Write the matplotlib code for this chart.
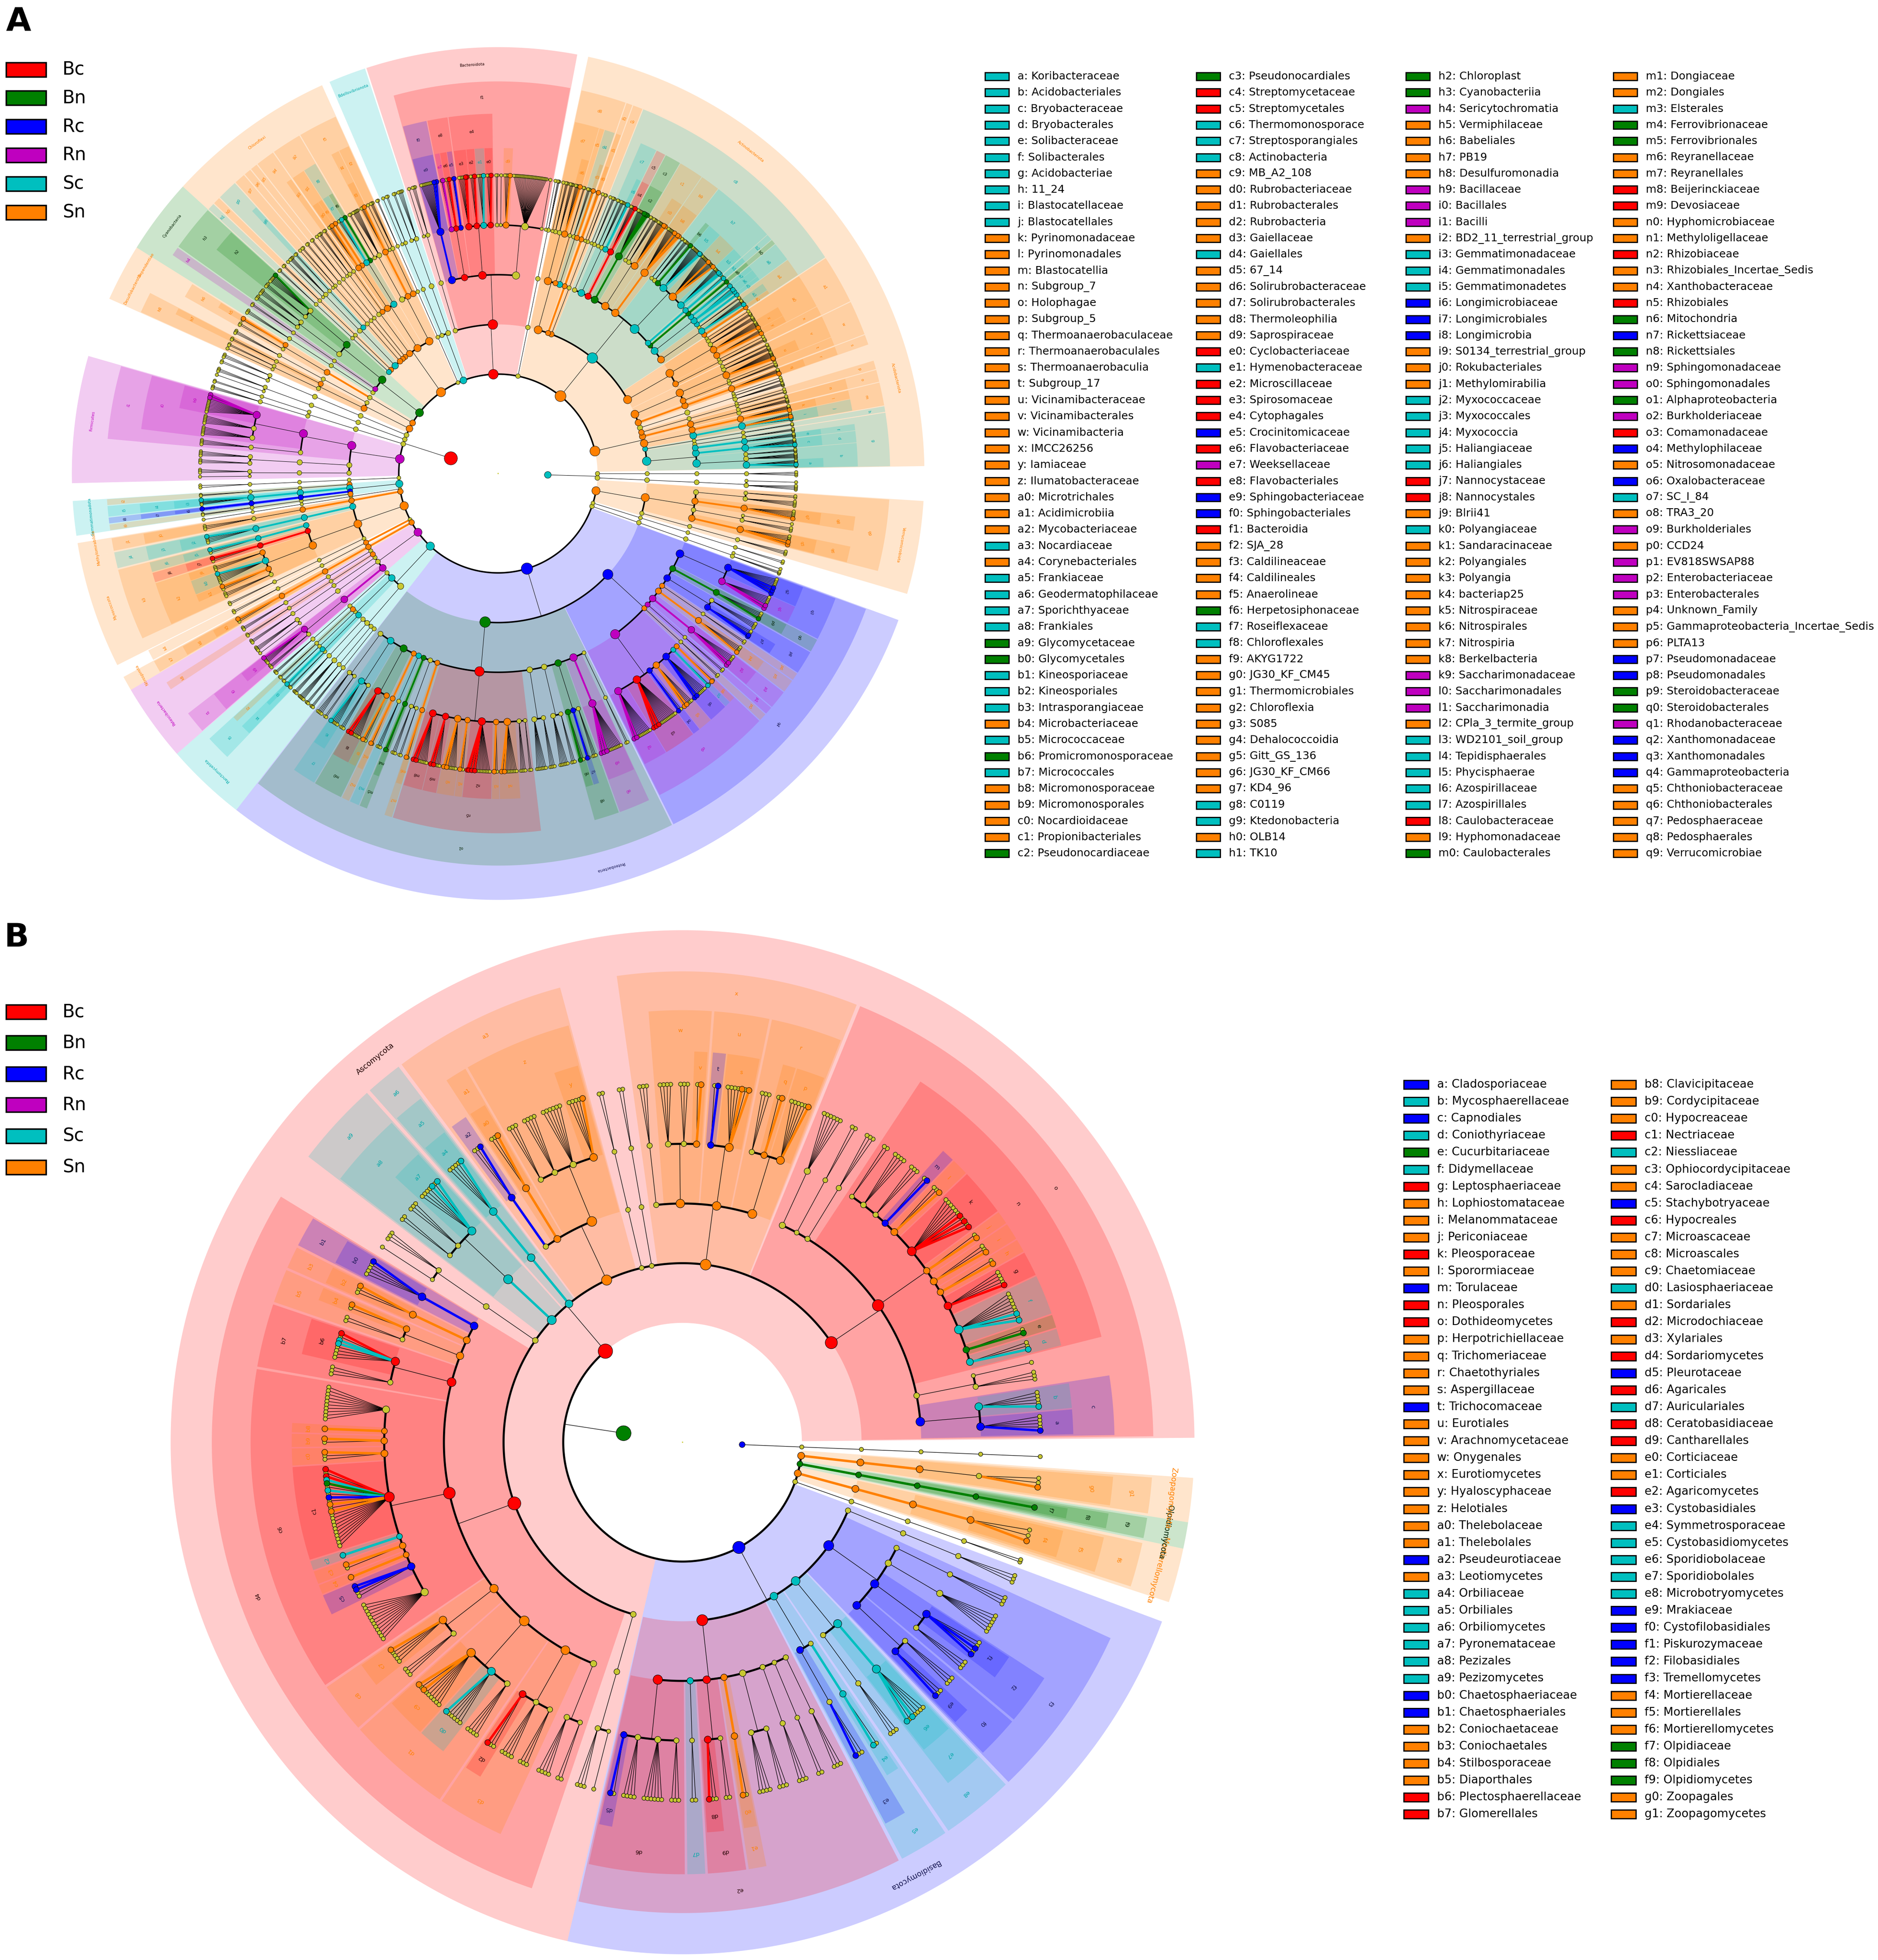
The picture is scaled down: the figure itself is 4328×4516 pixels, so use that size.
import numpy as np
import matplotlib
matplotlib.use("Agg")
import matplotlib.pyplot as plt
from matplotlib.patches import Polygon, Rectangle
from matplotlib.collections import LineCollection

# ------------------------------------------------------------------ data
GROUP_NAMES = ["Bc", "Bn", "Rc", "Rn", "Sc", "Sn"]
GROUP_KEYS = ["r", "g", "b", "m", "c", "o"]
GROUP_COLORS = ["#ff0000", "#008000", "#0000ff", "#bf00bf", "#00bfbf", "#ff8000"]
LABEL_TEXT_COLORS = ["#200000", "#002000", "#141450", "#bf00bf", "#00a8a8", "#ff8000"]

LEGEND_A = [
    "a Koribacteraceae c", "b Acidobacteriales c", "c Bryobacteraceae c", "d Bryobacterales c",
    "e Solibacteraceae c", "f Solibacterales c", "g Acidobacteriae c", "h 11_24 c",
    "i Blastocatellaceae c", "j Blastocatellales c", "k Pyrinomonadaceae o", "l Pyrinomonadales o",
    "m Blastocatellia o", "n Subgroup_7 o", "o Holophagae o", "p Subgroup_5 o",
    "q Thermoanaerobaculaceae o", "r Thermoanaerobaculales o", "s Thermoanaerobaculia o",
    "t Subgroup_17 o", "u Vicinamibacteraceae o", "v Vicinamibacterales o", "w Vicinamibacteria o",
    "x IMCC26256 o", "y Iamiaceae o", "z Ilumatobacteraceae o", "a0 Microtrichales o",
    "a1 Acidimicrobiia o", "a2 Mycobacteriaceae o", "a3 Nocardiaceae c", "a4 Corynebacteriales o",
    "a5 Frankiaceae c", "a6 Geodermatophilaceae c", "a7 Sporichthyaceae c", "a8 Frankiales c",
    "a9 Glycomycetaceae g", "b0 Glycomycetales g", "b1 Kineosporiaceae c", "b2 Kineosporiales c",
    "b3 Intrasporangiaceae c", "b4 Microbacteriaceae o", "b5 Micrococcaceae c",
    "b6 Promicromonosporaceae g", "b7 Micrococcales c", "b8 Micromonosporaceae o",
    "b9 Micromonosporales o", "c0 Nocardioidaceae o", "c1 Propionibacteriales o",
    "c2 Pseudonocardiaceae g",
    "c3 Pseudonocardiales g", "c4 Streptomycetaceae r", "c5 Streptomycetales r",
    "c6 Thermomonosporace c", "c7 Streptosporangiales c", "c8 Actinobacteria c", "c9 MB_A2_108 o",
    "d0 Rubrobacteriaceae o", "d1 Rubrobacterales o", "d2 Rubrobacteria o", "d3 Gaiellaceae o",
    "d4 Gaiellales c", "d5 67_14 o", "d6 Solirubrobacteraceae o", "d7 Solirubrobacterales o",
    "d8 Thermoleophilia o", "d9 Saprospiraceae o", "e0 Cyclobacteriaceae r", "e1 Hymenobacteraceae c",
    "e2 Microscillaceae r", "e3 Spirosomaceae r", "e4 Cytophagales r", "e5 Crocinitomicaceae b",
    "e6 Flavobacteriaceae r", "e7 Weeksellaceae m", "e8 Flavobacteriales r",
    "e9 Sphingobacteriaceae b", "f0 Sphingobacteriales b", "f1 Bacteroidia r", "f2 SJA_28 o",
    "f3 Caldilineaceae o", "f4 Caldilineales o", "f5 Anaerolineae o", "f6 Herpetosiphonaceae g",
    "f7 Roseiflexaceae c", "f8 Chloroflexales c", "f9 AKYG1722 o", "g0 JG30_KF_CM45 o",
    "g1 Thermomicrobiales o", "g2 Chloroflexia o", "g3 S085 o", "g4 Dehalococcoidia o",
    "g5 Gitt_GS_136 o", "g6 JG30_KF_CM66 o", "g7 KD4_96 o", "g8 C0119 c", "g9 Ktedonobacteria c",
    "h0 OLB14 o", "h1 TK10 c",
    "h2 Chloroplast g", "h3 Cyanobacteriia g", "h4 Sericytochromatia m", "h5 Vermiphilaceae o",
    "h6 Babeliales o", "h7 PB19 o", "h8 Desulfuromonadia o", "h9 Bacillaceae m", "i0 Bacillales m",
    "i1 Bacilli m", "i2 BD2_11_terrestrial_group o", "i3 Gemmatimonadaceae c",
    "i4 Gemmatimonadales c", "i5 Gemmatimonadetes c", "i6 Longimicrobiaceae b",
    "i7 Longimicrobiales b", "i8 Longimicrobia b", "i9 S0134_terrestrial_group o",
    "j0 Rokubacteriales o", "j1 Methylomirabilia o", "j2 Myxococcaceae c", "j3 Myxococcales c",
    "j4 Myxococcia c", "j5 Haliangiaceae c", "j6 Haliangiales c", "j7 Nannocystaceae r",
    "j8 Nannocystales r", "j9 Blrii41 o", "k0 Polyangiaceae c", "k1 Sandaracinaceae o",
    "k2 Polyangiales o", "k3 Polyangia o", "k4 bacteriap25 o", "k5 Nitrospiraceae o",
    "k6 Nitrospirales o", "k7 Nitrospiria o", "k8 Berkelbacteria o", "k9 Saccharimonadaceae m",
    "l0 Saccharimonadales m", "l1 Saccharimonadia m", "l2 CPla_3_termite_group o",
    "l3 WD2101_soil_group c", "l4 Tepidisphaerales c", "l5 Phycisphaerae c", "l6 Azospirillaceae c",
    "l7 Azospirillales c", "l8 Caulobacteraceae r", "l9 Hyphomonadaceae o", "m0 Caulobacterales g",
    "m1 Dongiaceae o", "m2 Dongiales o", "m3 Elsterales c", "m4 Ferrovibrionaceae g",
    "m5 Ferrovibrionales g", "m6 Reyranellaceae o", "m7 Reyranellales o", "m8 Beijerinckiaceae r",
    "m9 Devosiaceae r", "n0 Hyphomicrobiaceae o", "n1 Methyloligellaceae o", "n2 Rhizobiaceae r",
    "n3 Rhizobiales_Incertae_Sedis o", "n4 Xanthobacteraceae o", "n5 Rhizobiales r",
    "n6 Mitochondria g", "n7 Rickettsiaceae b", "n8 Rickettsiales g", "n9 Sphingomonadaceae m",
    "o0 Sphingomonadales m", "o1 Alphaproteobacteria g", "o2 Burkholderiaceae m",
    "o3 Comamonadaceae r", "o4 Methylophilaceae b", "o5 Nitrosomonadaceae o",
    "o6 Oxalobacteraceae b", "o7 SC_I_84 c", "o8 TRA3_20 o", "o9 Burkholderiales m", "p0 CCD24 o",
    "p1 EV818SWSAP88 m", "p2 Enterobacteriaceae m", "p3 Enterobacterales m", "p4 Unknown_Family o",
    "p5 Gammaproteobacteria_Incertae_Sedis o", "p6 PLTA13 o", "p7 Pseudomonadaceae b",
    "p8 Pseudomonadales b", "p9 Steroidobacteraceae g", "q0 Steroidobacterales g",
    "q1 Rhodanobacteraceae m", "q2 Xanthomonadaceae b", "q3 Xanthomonadales b",
    "q4 Gammaproteobacteria b", "q5 Chthoniobacteraceae o", "q6 Chthoniobacterales o",
    "q7 Pedosphaeraceae o", "q8 Pedosphaerales o", "q9 Verrucomicrobiae o",
]

LEGEND_B = [
    "a Cladosporiaceae b", "b Mycosphaerellaceae c", "c Capnodiales b", "d Coniothyriaceae c",
    "e Cucurbitariaceae g", "f Didymellaceae c", "g Leptosphaeriaceae r", "h Lophiostomataceae o",
    "i Melanommataceae o", "j Periconiaceae o", "k Pleosporaceae r", "l Sporormiaceae o",
    "m Torulaceae b", "n Pleosporales r", "o Dothideomycetes r", "p Herpotrichiellaceae o",
    "q Trichomeriaceae o", "r Chaetothyriales o", "s Aspergillaceae o", "t Trichocomaceae b",
    "u Eurotiales o", "v Arachnomycetaceae o", "w Onygenales o", "x Eurotiomycetes o",
    "y Hyaloscyphaceae o", "z Helotiales o", "a0 Thelebolaceae o", "a1 Thelebolales o",
    "a2 Pseudeurotiaceae b", "a3 Leotiomycetes o", "a4 Orbiliaceae c", "a5 Orbiliales c",
    "a6 Orbiliomycetes c", "a7 Pyronemataceae c", "a8 Pezizales c", "a9 Pezizomycetes c",
    "b0 Chaetosphaeriaceae b", "b1 Chaetosphaeriales b", "b2 Coniochaetaceae o",
    "b3 Coniochaetales o", "b4 Stilbosporaceae o", "b5 Diaporthales o",
    "b6 Plectosphaerellaceae r", "b7 Glomerellales r",
    "b8 Clavicipitaceae o", "b9 Cordycipitaceae o", "c0 Hypocreaceae o", "c1 Nectriaceae r",
    "c2 Niessliaceae c", "c3 Ophiocordycipitaceae o", "c4 Sarocladiaceae o",
    "c5 Stachybotryaceae b", "c6 Hypocreales r", "c7 Microascaceae o", "c8 Microascales o",
    "c9 Chaetomiaceae o", "d0 Lasiosphaeriaceae c", "d1 Sordariales o", "d2 Microdochiaceae r",
    "d3 Xylariales o", "d4 Sordariomycetes r", "d5 Pleurotaceae b", "d6 Agaricales r",
    "d7 Auriculariales c", "d8 Ceratobasidiaceae r", "d9 Cantharellales r", "e0 Corticiaceae o",
    "e1 Corticiales o", "e2 Agaricomycetes r", "e3 Cystobasidiales b", "e4 Symmetrosporaceae c",
    "e5 Cystobasidiomycetes c", "e6 Sporidiobolaceae c", "e7 Sporidiobolales c",
    "e8 Microbotryomycetes c", "e9 Mrakiaceae b", "f0 Cystofilobasidiales b",
    "f1 Piskurozymaceae b", "f2 Filobasidiales b", "f3 Tremellomycetes b", "f4 Mortierellaceae o",
    "f5 Mortierellales o", "f6 Mortierellomycetes o", "f7 Olpidiaceae g", "f8 Olpidiales g",
    "f9 Olpidiomycetes g", "g0 Zoopagales o", "g1 Zoopagomycetes o",
]

# Tree specs.  phylum = (name, group, start_deg, end_deg, classes)
# class / order = ("code", children) if biomarker, else [children]
# family = ("code", genera) or genera ; genera string: '.' plain, group key = biomarker genus
A_ARCHAEA = [
    ("", "", 356.3, 358.9, [[["....", "."]]]),
    ("", "", 358.9, 361.0, [[["..."]]]),
]
A_ACIDO = ("Acidobacteriota", "o", 1.0, 26.0, [
    ("g", [("b", [("a", "..c....."), "......", "..."]), ("d", [("c", "..c......")]),
           ("f", [("e", "....")]), ["..."]]),
    ("h", [[".."]]),
    ("m", [("j", [("i", "..c.o....")]), ("l", [("k", "o.....")])]),
    ("o", [("n", ["....", ".."])]),
    ("p", [["..", "."]]),
    [["....", "..", "."]],
    ("s", [("r", [("q", "o.....")])]),
    ("w", [("t", ["...", "."]), ("v", [("u", "oo........"), "....", ".."])]),
])
A_ACTINO = ("Actinobacteriota", "o", 26.0, 77.8, [
    ("a1", [("x", ["...", "."]), ("a0", [("y", "o...."), ("z", "o......."), "....", "...", "."])]),
    ("c8", [("a4", [("a2", "o."), ("a3", "c....."), ".."]),
            ("a8", [("a5", "c."), ("a6", "c..c.."), ("a7", "c..")]),
            ("b0", [("a9", "g.")]),
            ("b2", [("b1", "c..")]),
            ("b7", [("b3", "c.c......"), ("b4", "o......o........."), ("b5", "cc.........."),
                    ("b6", "g.."), "....", ".."]),
            ("b9", [("b8", "o.o...o........")]),
            ("c1", [("c0", "o.o......."), "....", ".."]),
            ("c3", [("c2", "g.g.g.......")]),
            ("c5", [("c4", "r.....")]),
            ("c7", [("c6", "c.."), "....", ".."]),
            ["...", "."]]),
    ("c9", [["..", "."]]),
    ("d2", [("d1", [("d0", "o.")])]),
    ("d8", [("d4", [("d3", "o."), "..."]), ("d5", [".."]),
            ("d7", [("d6", "o....."), "....", "...", "."])]),
])
A_ARMAT = ("", "", 77.8, 79.3, [[["...", "."]]])
A_BACTERO = ("Bacteroidota", "r", 79.3, 108.0, [
    ("f1", [[".", "..........................", ("d9", "o...."), ".", ".."],
            ("e4", [("e0", "r..."), ("e1", "c...."), ("e2", "r..."), ("e3", "rr.....")]),
            ("e8", [("e5", "b."), ("e6", "r.."), ("e7", "m.")]),
            ("f0", [("e9", "b.b..........")])]),
    [["...", "."]],
])
A_BDELLO = ("Bdellovibrionota", "c", 108.2, 113.3, [[["....", ".."]], [["..", "."]]])
A_CAMPY = ("", "", 113.3, 114.4, [[[".."]]])
A_CHLORO = ("Chloroflexi", "o", 114.4, 137.7, [
    ("f5", [("f2", ["...", "."]), ("f4", [("f3", "o...")]), ["......", ".."]]),
    ("g2", [("f8", [("f6", "g."), ("f7", "c...")]), ("g1", [("f9", "o."), ("g0", "o...")])]),
    ("g4", [("g3", [".."]), ["...", "."]]),
    ("g5", [[".."]]),
    ("g6", [[".."]]),
    ("g7", [["..", "."]]),
    ("g9", [("g8", [".."]), ["....", "."]]),
    ("h0", [[".."]]),
    ("h1", [[".."]]),
])
A_CYANO = ("Cyanobacteria", "g", 137.7, 148.0, [
    ("h3", [("h2", ["g......", "..."]), ["....", "..."]]),
    ("h4", [[".."]]),
    [["..."]],
])
A_DEPEND = ("Dependentiae", "o", 148.0, 150.8, [[("h6", [("h5", "o."), ".."])]])
A_DESULFO = ("Desulfobacterota", "o", 150.8, 155.8, [[["..."]], ("h8", [("h7", [".."]), ["..", "."]])])
A_OTH1 = ("", "", 155.8, 158.8, [[["...", ".."]]])
A_OTH2 = ("", "", 158.8, 161.3, [[["...", "."]]])
A_OTH3 = ("", "", 161.3, 164.0, [[[".."], ["..."]]])
A_FIRMI = ("Firmicutes", "m", 164.0, 181.3, [
    ("i1", [("i0", [("h9", "m.m.........."), "......", "......"]), ["...."]]),
    [["....", "..."]],
    [["...", "."]],
])
A_GAL15 = ("", "", 181.3, 183.7, [[[".."]]])
A_GEMMA = ("Gemmatimonadota", "c", 183.7, 188.4, [
    ("i2", [[".."]]),
    ("i5", [("i4", [("i3", "c.....")])]),
    ("i8", [("i7", [("i6", "b.")])]),
    ("i9", [[".."]]),
])
A_LATESCI = ("", "", 188.4, 189.4, [[["."]]])
A_METHYLO = ("Methylomirabilota", "o", 189.4, 191.5, [("j1", [("j0", ["..."])])])
A_MYXO = ("Myxococcota", "o", 191.5, 206.7, [
    ("j4", [("j3", [("j2", "c....")])]),
    ("k3", [("j6", [("j5", "c..")]), ("j8", [("j7", "r..")]),
            ("k2", [("j9", "..."), ("k0", "c......"), ("k1", "o.."), "..."])]),
    [[".."]],
])
A_NB1J = ("", "", 206.7, 208.5, [("k4", [[".."]])])
A_NITRO = ("Nitrospirota", "o", 208.5, 210.5, [("k7", [("k6", [("k5", "o..")])])])
A_PATESCI = ("Patescibacteria", "m", 210.5, 221.1, [
    [["..."]],
    ("k8", [[".."]]),
    [["..."]],
    [["....", "."]],
    ("l1", [("l0", [("k9", "m....."), "..."])]),
])
A_PLANCTO = ("Planctomycetota", "c", 221.1, 232.1, [
    [["..."]],
    ("l5", [("l2", [".."]), [".."], ("l4", [("l3", "c."), ".."])]),
    [["...."], ["......"], ["..."], ["..."]],
])
A_PROTEO = ("Proteobacteria", "b", 232.1, 339.9, [
    ("o1", [["....", ".."],
            ("l7", [("l6", "c....."), "..."]),
            ("m0", [("l8", "r.r......"), ("l9", "o..")]),
            ("m2", [("m1", "o.")]),
            ("m3", ["..."]),
            ("m5", [("m4", "g.")]),
            ["...", ".."],
            ("m7", [("m6", "o.")]),
            ("n5", [("m8", "r.r......."), ("m9", "r.r...."), ("n0", "o.o......"), ("n1", "o.."),
                    ("n2", "rr.r.r.........."), ("n3", "o.."), ("n4", "o.o........"), "....", ".."]),
            [".......", "...."],
            ["......", "..."],
            ("n8", [("n6", "g.."), ("n7", "b."), "..."]),
            ("o0", [("n9", "m.m.m..........")]),
            [".."]]),
    ("q4", [("o9", [("o2", "m.m.........."), ("o3", "r.r.r............."), ("o4", "b.."),
                    ("o5", "o.o...."), ("o6", "b.b......."), ("o7", "c."), ("o8", "o.")]),
            ("p0", [".."]),
            ("p1", [".."]),
            ("p3", [("p2", "m.m.....")]),
            ("p5", [("p4", "o....")]),
            ("p6", [".."]),
            ("p8", [("p7", "bb..."), "...."]),
            ("q0", [("p9", "g....")]),
            ("q3", [("q1", "m.m......"), ("q2", "b.b.b......")])]),
])
A_OTH4 = ("", "", 339.9, 341.8, [[["...", "."]]])
A_OTH5 = ("", "", 341.8, 343.6, [[[".."]]])
A_VERRUCO = ("Verrucomicrobiota", "o", 343.6, 356.3, [
    [["..."]],
    ("q9", [("q6", [("q5", "o.o....")]), ["...", "."], ("q8", [("q7", "o.....")]), ["....", ".."]]),
])
A_BACTERIA = [A_ACIDO, A_ACTINO, A_ARMAT, A_BACTERO, A_BDELLO, A_CAMPY, A_CHLORO, A_CYANO,
              A_DEPEND, A_DESULFO, A_OTH1, A_OTH2, A_OTH3, A_FIRMI, A_GAL15, A_GEMMA, A_LATESCI,
              A_METHYLO, A_MYXO, A_NB1J, A_NITRO, A_PATESCI, A_PLANCTO, A_PROTEO, A_OTH4, A_OTH5,
              A_VERRUCO]
A_KINGDOMS = [("c", A_ARCHAEA), ("r", A_BACTERIA)]

B_ASCO = ("Ascomycota", "r", 0.5, 257.0, [
    ("o", [("c", [("a", "b...."), ("b", "c....")]),
           ["...", "."],
           ("n", [("d", "c.."), ("e", "g."), ("f", "c.c......"), ("g", "r...."), ("h", "o."),
                  ("i", "o.."), ("j", "o."), ("k", "r.r.r......"), ("l", "o.."), ("m", "b."),
                  "...", "....", ".."]),
           ["..."], [".."], ["......"]]),
    ("x", [("r", [("p", "o....."), ("q", "o."), "..."]),
           ("u", [("s", "o.o...."), ("t", "b.")]),
           ("w", [("v", "o."), "...", "...."]),
           ["..."]]),
    [[".."]],
    [[".."]],
    ("a3", [("z", [("y", "o...."), "......", "....", "..."]),
            ("a1", [("a0", "o..")]),
            [("a2", "b..")]]),
    ("a6", [("a5", [("a4", "c....")])]),
    ("a9", [("a8", [("a7", "c.c...."), "...", ".."])]),
    [["...", "."]],
    ("d4", [("b1", [("b0", "b....")]),
            ("b3", [("b2", "o..")]),
            ("b5", [("b4", "o."), ".."]),
            ("b7", [("b6", "r.cc...."), "..."]),
            ("c6", ["..........", ("b8", "o"), ("b9", "o."), ("c0", "o.."),
                    ("c1", "r.rcg.c.b.o.o.........."), ("c2", "c"), ("c3", "o."), ("c4", "o"),
                    ("c5", "bb.."), "............"]),
            ("c8", [("c7", "o...."), "..."]),
            ("d1", [("c9", "o.o......"), ("d0", "c....."), "...."]),
            ("d3", [("d2", "r.."), "....", "..."]),
            ["....", ".."]]),
    [["...", "."]],
])
B_BASIDIO = ("Basidiomycota", "b", 257.0, 339.5, [
    ("e2", [("d6", [("d5", "b."), "....", "......", "..."]),
            ("d7", [".."]),
            ("d9", [("d8", "r.."), ".."]),
            ("e1", [("e0", "o.")]),
            ["....", "..."], ["..."], [".."], ["..."]]),
    ("e5", [("e3", ["b.."]), [("e4", "c.")]]),
    ("e8", [["..."], ("e7", [("e6", "c.c....")])]),
    ("f3", [("f0", [("e9", "b.."), "..."]), ("f2", ["...", ("f1", "b.b..")]), ["......"], ["..."]]),
    [["..."]],
])
B_OTHER_PHYLUM = ("", "", 339.5, 341.8, [[[".."]]])
B_MORT = ("Mortierellomycota", "o", 341.8, 348.0, [("f6", [("f5", [("f4", "o..")])])])
B_OLPID = ("Olpidiomycota", "g", 348.0, 351.0, [("f9", [("f8", [("f7", "g")])])])
B_ZOOP = ("Zoopagomycota", "o", 351.0, 356.0, [("g1", [("g0", ["o.."])])])
B_FUNGI = [B_ASCO, B_BASIDIO, B_OTHER_PHYLUM, B_MORT, B_OLPID, B_ZOOP]
B_OTHER_KINGDOM = [("", "", 356.8, 358.6, [[["."]]])]
B_KINGDOMS = [("g", B_FUNGI), ("b", B_OTHER_KINGDOM)]

# ------------------------------------------------------------------ style / layout
W, H, DPI = 4328, 4516, 100
COL = dict(zip(GROUP_KEYS, GROUP_COLORS))
TXT = dict(zip(GROUP_KEYS, LABEL_TEXT_COLORS))
NODE_YELLOW = "#c8c832"
MARG = {2: 2.4, 3: 2.0, 4: 1.6, 5: 1.2}
G1, G2, G3 = 1.8, 2.8, 3.8
KOUT = {2: 2.58, 3: 1.89, 4: 1.24, 5: 0.55}
LABR = {2: 8.235, 3: 7.565, 4: 6.895, 5: 6.275}


def make_node(level, label, color):
    return {"level": level, "label": label, "color": color, "children": []}


def parse_family(x, cg):
    lab, gen = (None, x) if isinstance(x, str) else x
    n = make_node(5, lab, cg.get(lab))
    for ch in gen:
        n["children"].append(make_node(6, None, None if ch == "." else ch))
    return n


def parse_group(x, level, cg):
    lab, kids = (None, x) if isinstance(x, list) else x
    n = make_node(level, lab, cg.get(lab))
    for k in kids:
        n["children"].append(parse_family(k, cg) if level == 4 else parse_group(k, level + 1, cg))
    return n


def set_u(n, u):
    n["u"] = u
    for c in n["children"]:
        set_u(c, u)


def parse_phylum(p, cg):
    name, col, s, e, classes = p
    n = make_node(2, name or None, col or None)
    n["children"] = [parse_group(c, 3, cg) for c in classes]
    leaves = []
    for ci, c in enumerate(n["children"]):
        for oi, o in enumerate(c["children"]):
            for fi, f in enumerate(o["children"]):
                for g in f["children"]:
                    leaves.append((g, (ci, oi, fi)))
    pos, q, prev = [], 0.0, None
    for g, key in leaves:
        if prev is not None:
            if key[0] != prev[0]:
                q += 1 + G3
            elif key[1] != prev[1]:
                q += 1 + G2
            elif key[2] != prev[2]:
                q += 1 + G1
            else:
                q += 1
        pos.append(q)
        prev = key
    u = (e - s) / (q + 2 * MARG[2])
    for (g, _), qq in zip(leaves, pos):
        g["phi"] = s + u * (MARG[2] + qq)
    set_u(n, u)
    return n


def finalize(n):
    if not n["children"]:
        n["n"], n["sum"], n["lo"], n["hi"] = 1, n["phi"], n["phi"], n["phi"]
        return
    for c in n["children"]:
        finalize(c)
    n["n"] = sum(c["n"] for c in n["children"])
    n["sum"] = sum(c["sum"] for c in n["children"])
    n["lo"] = min(c["lo"] for c in n["children"])
    n["hi"] = max(c["hi"] for c in n["children"])
    n["phi"] = n["sum"] / n["n"]


def polar(cx, cy, r, phi):
    t = np.deg2rad(phi)
    return cx + r * np.cos(t), cy - r * np.sin(t)


def sector(cx, cy, r0, r1, p0, p1):
    k = max(6, int(abs(p1 - p0) * 3) + 2)
    ts = np.linspace(p0, p1, k)
    xo, yo = polar(cx, cy, r1, ts)
    xi, yi = polar(cx, cy, r0, ts[::-1])
    return np.column_stack([np.r_[xo, xi], np.r_[yo, yi]])


def draw_clado(ax, kingdoms, legend, cx, cy, d, sc, fs_lab, fs_phy, lw_thin, lw_arc, lw_col):
    cg = {}
    for e in legend:
        code, name, grp = e.split()
        cg[code] = grp
    root = make_node(0, None, None)
    for kcol, phyla in kingdoms:
        k = make_node(1, None, kcol)
        for p in phyla:
            k["children"].append(parse_phylum(p, cg))
        root["children"].append(k)
    finalize(root)
    nodes = []

    def collect(n):
        nodes.append(n)
        for c in n["children"]:
            collect(c)
    collect(root)

    R6 = 6 * d
    for L in (2, 3, 4, 5):
        for n in nodes:
            if n["level"] == L and n["color"]:
                m = MARG[L] * n["u"]
                poly = Polygon(sector(cx, cy, L * d, R6 + KOUT[L] * d, n["lo"] - m, n["hi"] + m),
                               closed=True, facecolor=COL[n["color"]], alpha=0.2,
                               edgecolor="none", zorder=1)
                ax.add_patch(poly)
    thin, cols, colc, arcs = [], [], [], []
    for n in nodes:
        L = n["level"]
        if L == 0 or not n["children"]:
            continue
        P = polar(cx, cy, L * d, n["phi"])
        if L == 5 or len(n["children"]) == 1:
            for c in n["children"]:
                C = polar(cx, cy, (L + 1) * d, c["phi"])
                if c["color"]:
                    cols.append([P, C])
                    colc.append(COL[c["color"]])
                else:
                    thin.append([P, C])
        else:
            thin.append([P, polar(cx, cy, (L + 1) * d, n["phi"])])
            ph = [c["phi"] for c in n["children"]]
            ts = np.linspace(min(ph), max(ph), max(4, int((max(ph) - min(ph)) * 3)))
            xs, ys = polar(cx, cy, (L + 1) * d, ts)
            arcs.append(np.column_stack([xs, ys]))
    ax.add_collection(LineCollection(thin, colors="k", linewidths=lw_thin, zorder=2))
    ax.add_collection(LineCollection(arcs, colors="k", linewidths=lw_arc, zorder=2.5,
                                     capstyle="round"))
    ax.add_collection(LineCollection(cols, colors=colc, linewidths=lw_col, zorder=3))
    for colored in (False, True):
        xs, ys, ss, cs = [], [], [], []
        for n in nodes:
            if n["level"] == 0 or bool(n["color"]) != colored:
                continue
            diam = sc * (5.5 + 3.2 * np.log(1 + n["n"])) + (3 * sc if colored else 0)
            x, y = polar(cx, cy, n["level"] * d, n["phi"])
            xs.append(x)
            ys.append(y)
            ss.append((diam * 72.0 / DPI) ** 2)
            cs.append(COL[n["color"]] if colored else NODE_YELLOW)
        ax.scatter(xs, ys, s=ss, c=cs, edgecolors="k", linewidths=0.6 * sc,
                   zorder=4.5 if colored else 4)
    ax.scatter([cx], [cy], s=(3 * 72.0 / DPI) ** 2, c=NODE_YELLOW, edgecolors="none", zorder=4)
    for n in nodes:
        L = n["level"]
        if 2 <= L <= 5 and n["color"] and n["label"]:
            mid = 0.5 * (n["lo"] + n["hi"])
            x, y = polar(cx, cy, LABR[L] * d, mid)
            ax.text(x, y, n["label"], rotation=mid - 90, rotation_mode="anchor",
                    ha="center", va="center", fontsize=fs_phy if L == 2 else fs_lab,
                    color=TXT[n["color"]], zorder=5)


def group_legend(ax, x0, y0, dy, w, h, fs):
    for i, (nm, col) in enumerate(zip(GROUP_NAMES, GROUP_COLORS)):
        y = y0 + i * dy
        ax.add_patch(Rectangle((x0, y - h / 2), w, h, facecolor=col, edgecolor="k", lw=2.5,
                               zorder=6))
        ax.text(x0 + w + 38, y, nm, fontsize=fs, va="center", ha="left", zorder=6)


def text_legend(ax, entries, cols_x, y0, dy, per_col, pw, ph, fs):
    for i, e in enumerate(entries):
        code, name, grp = e.split()
        ci, ri = divmod(i, per_col)
        px = cols_x[ci]
        y = y0 + ri * dy
        ax.add_patch(Rectangle((px, y - ph / 2), pw, ph, facecolor=COL[grp], edgecolor="k",
                               lw=2.0, zorder=6))
        ax.text(px + pw + 20, y, f"{code}: {name}", fontsize=fs, va="center", ha="left",
                zorder=6)


fig = plt.figure(figsize=(W / DPI, H / DPI), dpi=DPI)
ax = fig.add_axes([0, 0, 1, 1])
ax.set_xlim(0, W)
ax.set_ylim(H, 0)
ax.axis("off")

# Panel A
draw_clado(ax, A_KINGDOMS, LEGEND_A, 1148, 1091, 114.5, 1.0, 6.5, 6.5, 0.7, 2.5, 3.0)
group_legend(ax, 14, 160, 65.8, 92, 33, 30)
text_legend(ax, LEGEND_A, [2270, 2757, 3240, 3718], 176, 37.3, 49, 55, 18, 18)
ax.text(14, 14, "A", fontsize=54, fontweight="bold", va="top", ha="left")

# Panel B
draw_clado(ax, B_KINGDOMS, LEGEND_B, 1573, 3323, 137.5, 1.25, 9.5, 12.5, 0.9, 3.4, 4.0)
group_legend(ax, 14, 2331, 71.6, 92, 33, 30)
text_legend(ax, LEGEND_B, [3235, 3713], 2499, 39.1, 44, 57, 20, 19)
ax.text(9, 2124, "B", fontsize=54, fontweight="bold", va="top", ha="left")

fig.savefig("out.png", dpi=DPI)
